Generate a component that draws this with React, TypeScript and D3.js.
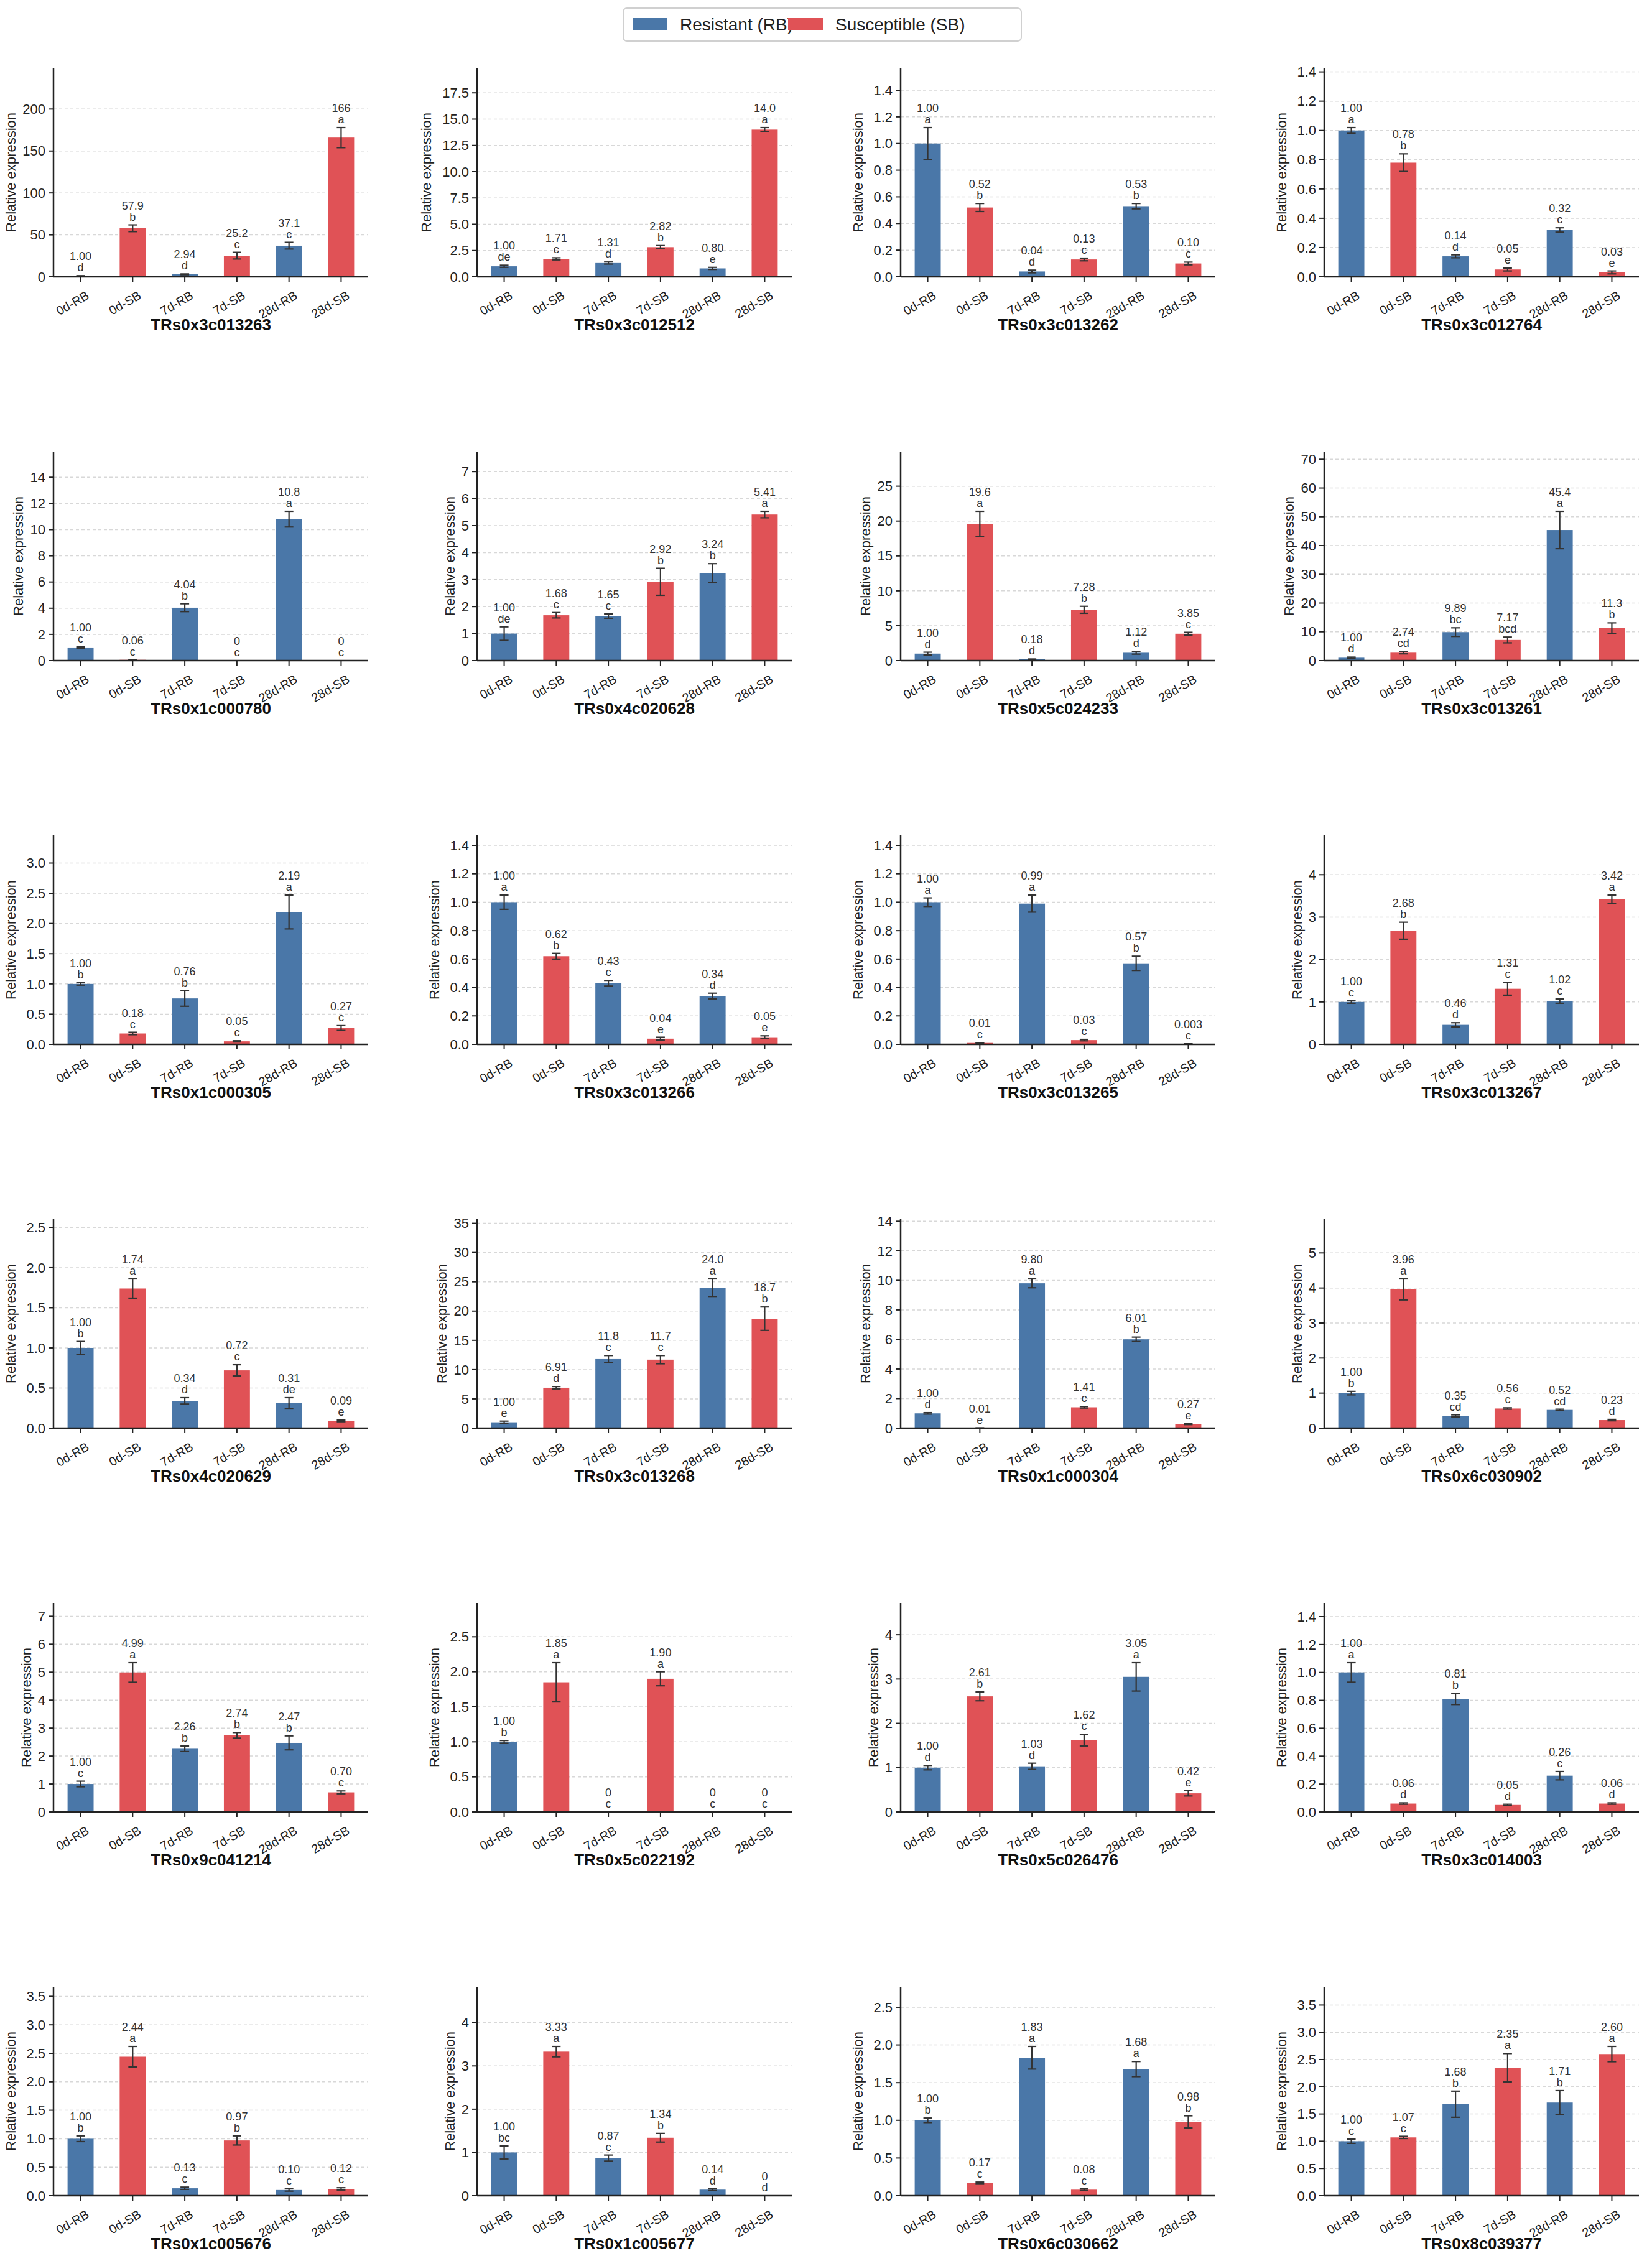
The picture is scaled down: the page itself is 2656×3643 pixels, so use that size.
import React from "react";
import * as d3 from "d3";

const categories = ["0d-RB", "0d-SB", "7d-RB", "7d-SB", "28d-RB", "28d-SB"];
const genes = [
  "TRs0x3c013263", "TRs0x3c012512", "TRs0x3c013262", "TRs0x3c012764",
  "TRs0x1c000780", "TRs0x4c020628", "TRs0x5c024233", "TRs0x3c013261",
  "TRs0x1c000305", "TRs0x3c013266", "TRs0x3c013265", "TRs0x3c013267",
  "TRs0x4c020629", "TRs0x3c013268", "TRs0x1c000304", "TRs0x6c030902",
  "TRs0x9c041214", "TRs0x5c022192", "TRs0x5c026476", "TRs0x3c014003",
  "TRs0x1c005676", "TRs0x1c005677", "TRs0x6c030662", "TRs0x8c039377",
];
const values = [
  [1.0, 57.9, 2.94, 25.2, 37.1, 166], [1.0, 1.71, 1.31, 2.82, 0.8, 14.0],
  [1.0, 0.52, 0.04, 0.13, 0.53, 0.1], [1.0, 0.78, 0.14, 0.05, 0.32, 0.03],
  [1.0, 0.06, 4.04, 0, 10.8, 0], [1.0, 1.68, 1.65, 2.92, 3.24, 5.41],
  [1.0, 19.6, 0.18, 7.28, 1.12, 3.85], [1.0, 2.74, 9.89, 7.17, 45.4, 11.3],
  [1.0, 0.18, 0.76, 0.05, 2.19, 0.27], [1.0, 0.62, 0.43, 0.04, 0.34, 0.05],
  [1.0, 0.01, 0.99, 0.03, 0.57, 0.003], [1.0, 2.68, 0.46, 1.31, 1.02, 3.42],
  [1.0, 1.74, 0.34, 0.72, 0.31, 0.09], [1.0, 6.91, 11.8, 11.7, 24.0, 18.7],
  [1.0, 0.01, 9.8, 1.41, 6.01, 0.27], [1.0, 3.96, 0.35, 0.56, 0.52, 0.23],
  [1.0, 4.99, 2.26, 2.74, 2.47, 0.7], [1.0, 1.85, 0, 1.9, 0, 0],
  [1.0, 2.61, 1.03, 1.62, 3.05, 0.42], [1.0, 0.06, 0.81, 0.05, 0.26, 0.06],
  [1.0, 2.44, 0.13, 0.97, 0.1, 0.12], [1.0, 3.33, 0.87, 1.34, 0.14, 0],
  [1.0, 0.17, 1.83, 0.08, 1.68, 0.98], [1.0, 1.07, 1.68, 2.35, 1.71, 2.6],
];
const errors = [
  [0.3, 4, 0.5, 4, 4, 12], [0.1, 0.1, 0.1, 0.15, 0.1, 0.2],
  [0.12, 0.03, 0.01, 0.01, 0.02, 0.01], [0.02, 0.06, 0.01, 0.01, 0.015, 0.01],
  [0.05, 0.01, 0.3, 0, 0.6, 0], [0.25, 0.1, 0.08, 0.5, 0.35, 0.12],
  [0.2, 1.8, 0.05, 0.5, 0.2, 0.2], [0.2, 0.4, 1.5, 1, 6.5, 1.8],
  [0.02, 0.02, 0.13, 0.01, 0.28, 0.04], [0.05, 0.02, 0.02, 0.01, 0.02, 0.01],
  [0.03, 0.002, 0.06, 0.005, 0.05, 0.001], [0.03, 0.2, 0.05, 0.15, 0.05, 0.1],
  [0.08, 0.12, 0.04, 0.07, 0.07, 0.01], [0.2, 0.2, 0.6, 0.7, 1.5, 2],
  [0.05, 0.005, 0.3, 0.05, 0.15, 0.03], [0.05, 0.3, 0.03, 0.02, 0.02, 0.02],
  [0.1, 0.35, 0.1, 0.1, 0.25, 0.05], [0.02, 0.28, 0, 0.1, 0, 0],
  [0.05, 0.1, 0.07, 0.13, 0.32, 0.06], [0.07, 0.005, 0.04, 0.005, 0.03, 0.005],
  [0.05, 0.18, 0.02, 0.08, 0.02, 0.02], [0.15, 0.12, 0.07, 0.1, 0.02, 0],
  [0.03, 0.01, 0.15, 0.01, 0.1, 0.08], [0.04, 0.02, 0.24, 0.26, 0.22, 0.14],
];
const letters = [
  ["d", "b", "d", "c", "c", "a"], ["de", "c", "d", "b", "e", "a"],
  ["a", "b", "d", "c", "b", "c"], ["a", "b", "d", "e", "c", "e"],
  ["c", "c", "b", "c", "a", "c"], ["de", "c", "c", "b", "b", "a"],
  ["d", "a", "d", "b", "d", "c"], ["d", "cd", "bc", "bcd", "a", "b"],
  ["b", "c", "b", "c", "a", "c"], ["a", "b", "c", "e", "d", "e"],
  ["a", "c", "a", "c", "b", "c"], ["c", "b", "d", "c", "c", "a"],
  ["b", "a", "d", "c", "de", "e"], ["e", "d", "c", "c", "a", "b"],
  ["d", "e", "a", "c", "b", "e"], ["b", "a", "cd", "c", "cd", "d"],
  ["c", "a", "b", "b", "b", "c"], ["b", "a", "c", "a", "c", "c"],
  ["d", "b", "d", "c", "a", "e"], ["a", "d", "b", "d", "c", "d"],
  ["b", "a", "c", "b", "c", "c"], ["bc", "a", "c", "b", "d", "d"],
  ["b", "c", "a", "c", "a", "b"], ["c", "c", "b", "a", "b", "a"],
];
const legendLabels = ["Resistant (RB)", "Susceptible (SB)"];

const BLUE = "#4a77a8";
const RED = "#e05256";
const FONT = "Liberation Sans, Arial, sans-serif";

function fmt(v: number) {
  if (v === 0) return "0";
  if (v < 0.01) return v.toPrecision(1);
  if (v >= 100) return v.toFixed(0);
  if (v >= 10) return v.toFixed(1);
  return v.toFixed(2);
}
function niceTicks(max: number) {
  const raw = max / 8;
  const mag = Math.pow(10, Math.floor(Math.log10(raw)));
  const step = [1, 2, 2.5, 5, 10].map((m) => m * mag).find((s) => s >= raw - 1e-12)!;
  const t: number[] = [];
  for (let i = 0; i * step <= max + 1e-9; i++) t.push(+(i * step).toFixed(6));
  return { t, step };
}
function tickFmt(v: number, step: number) {
  const dec = step >= 1 ? 0 : step >= 0.5 || step === 2.5 ? 1 : Math.max(1, -Math.floor(Math.log10(step)));
  return step === 2.5 || (step < 1 && step >= 0.1) ? v.toFixed(1) : v.toFixed(dec);
}

const W = 506, H = 336;

function Panel({ gi }: { gi: number }) {
  const r = Math.floor(gi / 4), c = gi % 4;
  const x0 = 86 + c * 681, y0 = 109 + r * 617;
  const vals = values[gi], errs = errors[gi];
  const ymax = 1.4 * d3.max(vals.map((v, i) => v + errs[i]))!;
  const y = d3.scaleLinear().domain([0, ymax]).range([H, 0]);
  const x = d3.scaleBand().domain(categories).range([0, W]).paddingInner(0.5).paddingOuter(0.27);
  const { t, step } = niceTicks(ymax);
  const labels = t.map((v) => tickFmt(v, step));
  const tw = d3.max(labels, (l) => l.length * 12.5)!;
  return (
    <g transform={`translate(${x0},${y0})`} fontFamily={FONT}>
      {t.map((v, i) => (
        <g key={i}>
          {v > 0 && <line x1={0} x2={W} y1={y(v)} y2={y(v)} stroke="#d8d8d8" strokeWidth={1.5} strokeDasharray="5,4" />}
          <line x1={-8} x2={0} y1={y(v)} y2={y(v)} stroke="#222" strokeWidth={2} />
          <text x={-13} y={y(v)} dy="0.35em" textAnchor="end" fontSize={22} fill="#222">{labels[i]}</text>
        </g>
      ))}
      {categories.map((cat, i) => {
        const cx = x(cat)! + x.bandwidth() / 2;
        const v = vals[i], e = errs[i];
        const top = y(v + e);
        return (
          <g key={cat}>
            <rect x={x(cat)} y={y(v)} width={x.bandwidth()} height={H - y(v)} fill={i % 2 === 0 ? BLUE : RED} />
            {e > 0 && (
              <g stroke="#333" strokeWidth={2.2}>
                <line x1={cx} x2={cx} y1={y(v + e)} y2={y(Math.max(0, v - e))} />
                <line x1={cx - 7} x2={cx + 7} y1={y(v + e)} y2={y(v + e)} />
                <line x1={cx - 7} x2={cx + 7} y1={y(Math.max(0, v - e))} y2={y(Math.max(0, v - e))} />
              </g>
            )}
            <text x={cx} y={top - 25} textAnchor="middle" fontSize={18} fill="#333">{fmt(v)}</text>
            <text x={cx} y={top - 7} textAnchor="middle" fontSize={18} fill="#333">{letters[gi][i]}</text>
            <line x1={cx} x2={cx} y1={H} y2={H + 8} stroke="#222" strokeWidth={2} />
            <text transform={`translate(${cx + 8},${H + 22}) rotate(-30)`} textAnchor="end" dy="0.7em" fontSize={20} fill="#222">{cat}</text>
          </g>
        );
      })}
      <line x1={0} x2={0} y1={0} y2={H} stroke="#222" strokeWidth={2.5} />
      <line x1={0} x2={W} y1={H} y2={H} stroke="#222" strokeWidth={2.5} />
      <text transform={`translate(${-(tw + 24)},${H / 2}) rotate(-90)`} textAnchor="middle" fontSize={22} fill="#222">Relative expression</text>
      <text x={W / 2} y={H + 86} textAnchor="middle" fontSize={26} fontWeight="bold" fill="#111">{genes[gi]}</text>
    </g>
  );
}

export default function App() {
  return (
    <svg width={2656} height={3643} style={{ position: "absolute", left: 0, top: 0, background: "#fff" }}>
      <rect width={2656} height={3643} fill="#fff" />
      <g fontFamily={FONT}>
        <rect x={1002} y={13} width={640} height={53} rx={6} fill="#fff" stroke="#d0d0d0" strokeWidth={2} />
        {legendLabels.map((l, i) => (
          <g key={l} transform={`translate(${1017 + i * 250},0)`}>
            <rect x={0} y={29} width={56} height={20} fill={i === 0 ? BLUE : RED} />
            <text x={76} y={39} dy="0.35em" fontSize={28} fill="#222">{l}</text>
          </g>
        ))}
      </g>
      {genes.map((g, gi) => <Panel key={g} gi={gi} />)}
    </svg>
  );
}
